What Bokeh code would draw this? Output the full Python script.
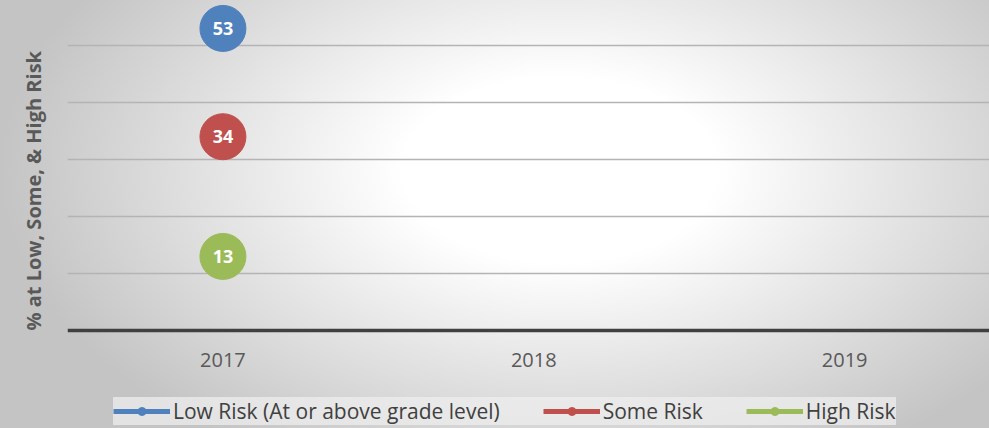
import numpy as np
from bokeh.plotting import figure
from bokeh.models import (Range1d, FixedTicker, Legend, LegendItem,
                          ColumnDataSource, Title)
from bokeh.embed import file_html
from bokeh.resources import INLINE
from bokeh.core.properties import value

# ---- data ----
years = ["2017", "2018", "2019"]
series_names = ["Low Risk (At or above grade level)", "Some Risk", "High Risk"]
low_risk = [53, np.nan, np.nan]
some_risk = [34, np.nan, np.nan]
high_risk = [13, np.nan, np.nan]
y_ticks = [10, 20, 30, 40, 50]
y_title = "% at Low, Some, & High Risk"
colors = ["#4f81bd", "#c0504d", "#9bbb59"]

FONT = "Open Sans"
x_idx = list(range(len(years)))

FRAME_H = 428          # frame spans full height (x axis drawn at y=0)
PX_PER_UNIT = 5.7
y0 = -(FRAME_H - 330) / PX_PER_UNIT

p = figure(width=989, height=428,
           x_range=Range1d(-0.5, 2.466), y_range=Range1d(y0, 57.9),
           output_backend="svg", toolbar_location=None,
           min_border_left=67, min_border_right=0,
           min_border_top=0, min_border_bottom=0)

p.background_fill_alpha = 0
p.border_fill_alpha = 0
p.outline_line_color = None
p.styles = {"background": "radial-gradient(ellipse 560px 330px at 560px 170px, "
                          "#ffffff 0%, #ffffff 28%, #c4c4c4 100%)"}

# grid
p.xgrid.visible = False
p.ygrid.ticker = FixedTicker(ticks=y_ticks)
p.ygrid.grid_line_color = "#b4b4b4"
p.ygrid.grid_line_width = 1.3

# axes
p.yaxis.visible = False
xa = p.xaxis[0]
xa.fixed_location = 0
xa.ticker = FixedTicker(ticks=x_idx)
xa.major_label_overrides = {i: y for i, y in enumerate(years)}
xa.axis_line_color = "#404040"
xa.axis_line_width = 3.5
xa.major_tick_line_color = None
xa.minor_tick_line_color = None
xa.major_label_standoff = 16
xa.major_label_text_font = FONT
xa.major_label_text_font_size = "20px"
xa.major_label_text_color = "#595959"

# y title
p.add_layout(Title(text=y_title, align="left", vertical_align="top",
                   offset=FRAME_H - 330, standoff=38, text_font=FONT,
                   text_font_size="20px", text_font_style="bold",
                   text_color="#595959"), "left")

items = []
for name, vals, col in zip(series_names, [low_risk, some_risk, high_risk], colors):
    src = ColumnDataSource(dict(x=x_idx, y=vals, t=[("" if np.isnan(v) else str(int(v))) for v in vals]))
    ln = p.line("x", "y", source=src, line_color=col, line_width=5)
    sm = p.scatter("x", "y", source=src, size=12, fill_color=col, line_color=col)
    p.scatter("x", "y", source=src, size=46, fill_color=col, line_color=col)
    p.text("x", "y", text="t", source=src, text_color="white",
           text_font=value(FONT), text_font_style="bold", text_font_size="18px",
           text_align="center", text_baseline="middle")
    items.append(LegendItem(label=name, renderers=[ln, sm]))

legend = Legend(items=items, orientation="horizontal", location=(46, 3),
                glyph_width=57, glyph_height=20, label_standoff=3, spacing=43,
                padding=6, margin=0,
                label_text_font=FONT, label_text_font_size="21px",
                label_text_color="#404040",
                background_fill_color="#eeeeee", background_fill_alpha=0.75,
                border_line_color=None)
p.add_layout(legend, "center")

open("out.html", "w").write(file_html(p, INLINE))
